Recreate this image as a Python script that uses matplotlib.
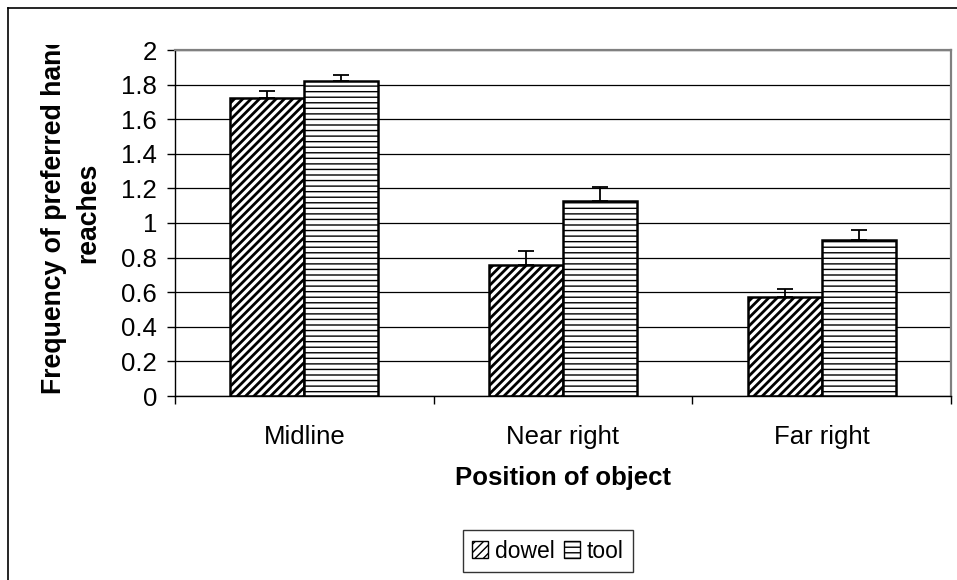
import numpy as np
import matplotlib
matplotlib.use("Agg")
import matplotlib.pyplot as plt
from matplotlib.patches import Patch
from matplotlib.lines import Line2D
from matplotlib.transforms import Bbox

plt.rcParams['font.family'] = ['Liberation Sans', 'DejaVu Sans']

categories = ["Midline", "Near right", "Far right"]
dowel = [1.72, 0.76, 0.57]
dowel_err = [0.045, 0.08, 0.05]
tool = [1.82, 1.13, 0.90]
tool_err = [0.035, 0.08, 0.06]
yticks = [0, 0.2, 0.4, 0.6, 0.8, 1, 1.2, 1.4, 1.6, 1.8, 2]
ytick_labels = ["0", "0.2", "0.4", "0.6", "0.8", "1", "1.2", "1.4", "1.6", "1.8", "2"]

W, H = 957, 580
fig = plt.figure(figsize=(W / 100, H / 100), dpi=100)
ax = fig.add_axes([175 / W, 1 - 396 / H, (951 - 175) / W, (396 - 50) / H])

x = np.arange(len(categories))
w = 0.286


def make_bars(xpos, vals, hatch, hlw):
    with plt.rc_context({'hatch.linewidth': hlw}):
        bars = ax.bar(xpos, vals, w, color='white', edgecolor='black',
                      linewidth=1.8, hatch=hatch, zorder=2)
    for b in bars:
        if hasattr(b, 'set_hatch_linewidth'):
            b.set_hatch_linewidth(hlw)
    return bars


make_bars(x - w / 2, dowel, '////', 2.0)
make_bars(x + w / 2, tool, '---', 1.0)

zeros = np.zeros(len(categories))
ax.errorbar(x - w / 2, dowel, yerr=[zeros, dowel_err], fmt='none', ecolor='black',
            elinewidth=1.3, capsize=6, capthick=1.3, zorder=3)
ax.errorbar(x + w / 2, tool, yerr=[zeros, tool_err], fmt='none', ecolor='black',
            elinewidth=1.3, capsize=6, capthick=1.3, zorder=3)

ax.set_xlim(-0.5, 2.5)
ax.set_ylim(0, 2)
ax.set_yticks(yticks)
ax.set_yticklabels(ytick_labels)
ax.set_xticks(x)
ax.set_xticklabels(categories)
ax.set_xticks([-0.5, 0.5, 1.5, 2.5], minor=True)
ax.tick_params(axis='x', which='major', length=0, pad=21, labelsize=18.5)
ax.tick_params(axis='x', which='minor', length=6, width=1, direction='out')
ax.tick_params(axis='y', length=6, width=1, direction='out', pad=7, labelsize=18.5)

ax.set_axisbelow(True)
ax.yaxis.grid(True, color='black', linewidth=0.9)
for s in ['top', 'right']:
    ax.spines[s].set_color('#808080')
    ax.spines[s].set_linewidth(1.6)
for s in ['left', 'bottom']:
    ax.spines[s].set_color('black')
    ax.spines[s].set_linewidth(1.0)

fig.text(563 / W, 1 - 478 / H, "Position of object", fontsize=18.5, fontweight='bold',
         ha='center', va='center')

# y title is clipped at the top in the original chart
ylab = fig.text(71 / W, 1 - 213 / H, "Frequency of preferred hand\nreaches", fontsize=19.2,
                fontweight='bold', rotation=90, ha='center', va='center',
                multialignment='center', linespacing=1.4)
ylab.set_clip_on(True)
ylab.set_clip_box(Bbox([[0, 0], [W, H - 45]]))

handles = [Patch(facecolor='white', edgecolor='black', hatch='////', label='dowel'),
           Patch(facecolor='white', edgecolor='black', hatch='---', label='tool')]
leg = fig.legend(handles=handles, loc='center', bbox_to_anchor=(548 / W, 1 - 551 / H),
                 ncol=2, fontsize=16.5, frameon=True, fancybox=False, handlelength=0.7,
                 handleheight=0.7, handletextpad=0.3, columnspacing=0.4, borderpad=0.42,
                 borderaxespad=0)
leg.get_frame().set_edgecolor('black')
leg.get_frame().set_linewidth(1.0)

# outer chart border (cut off at right and bottom)
fig.add_artist(Line2D([8 / W, 1], [1 - 8 / H, 1 - 8 / H], color='black', lw=1.2,
                      transform=fig.transFigure))
fig.add_artist(Line2D([8 / W, 8 / W], [0, 1 - 8 / H], color='black', lw=1.2,
                      transform=fig.transFigure))

fig.savefig("out.png", dpi=100)
